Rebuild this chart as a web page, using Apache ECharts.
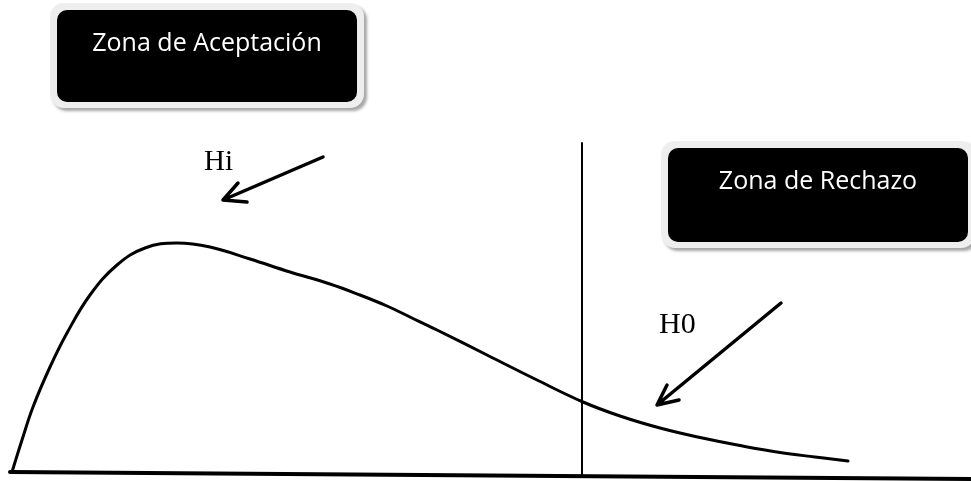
<!DOCTYPE html>
<html>
<head>
<meta charset="utf-8">
<script src="https://cdn.jsdelivr.net/npm/echarts@6/dist/echarts.min.js"></script>
<style>
  html, body { margin: 0; padding: 0; background: #fff; }
  #main { width: 971px; height: 481px; }
</style>
</head>
<body>
<div id="main"></div>
<script>
// curva (eje y hacia abajo)
var curveX = [12, 22, 33, 50, 67, 90, 117, 145, 177, 210, 250, 290, 330, 360, 387, 410, 437, 487, 537, 583, 620, 660, 700, 740, 780, 815, 848];
var curveY = [472, 440, 407, 367, 333, 295, 265, 248, 243, 247, 259, 272, 284, 295, 306, 317, 330, 355, 380, 402, 416, 428, 437.5, 445.5, 452.5, 457, 461];

// eje horizontal y linea de corte
var baseX = [10, 971];
var baseY = [472, 479];
var cutX = [582, 582];
var cutY = [143, 476];

// flechas: cola, punta, ala, punta, ala
var arrowHiX = [323, 223, 238, 223, 247];
var arrowHiY = [157, 200, 183, 200, 202];
var arrowH0X = [781, 657, 667, 657, 679];
var arrowH0Y = [303, 405, 385, 405, 400];

var labels = ['Hi', 'H0'];
var zonas = ['Zona de Aceptación', 'Zona de Rechazo'];

function pares(xs, ys) {
    return xs.map(function (x, i) { return [x, ys[i]]; });
}

function linea(name, xs, ys, width, smooth) {
    return {
        name: name,
        type: 'line',
        data: pares(xs, ys),
        smooth: smooth || false,
        symbol: 'none',
        silent: true,
        lineStyle: { color: '#000', width: width, cap: 'round', join: 'round' }
    };
}

var myChart = echarts.init(document.getElementById('main'));

function caja(x, y, w, h, texto) {
    return [
        {
            type: 'rect',
            shape: { x: x - 7, y: y - 7, width: w + 14, height: h + 13, r: 14 },
            style: { fill: '#eeeeee', shadowBlur: 3, shadowOffsetX: 3, shadowOffsetY: 3, shadowColor: 'rgba(0,0,0,0.35)' }
        },
        {
            type: 'rect',
            shape: { x: x, y: y, width: w, height: h, r: 10 },
            style: { fill: '#000' }
        },
        {
            type: 'text',
            x: x + w / 2,
            y: y + 34,
            style: {
                text: texto,
                fill: '#fff',
                font: '25px "Open Sans"',
                textAlign: 'center',
                textVerticalAlign: 'middle'
            }
        }
    ];
}

option = {
    animation: false,
    backgroundColor: '#fff',
    grid: { left: 0, right: 0, top: 0, bottom: 0 },
    xAxis: { type: 'value', min: 0, max: 971, show: false },
    yAxis: { type: 'value', min: 0, max: 481, inverse: true, show: false },
    series: [
        linea('curva', curveX, curveY, 3, 0.4),
        linea('eje', baseX, baseY, 4),
        linea('corte', cutX, cutY, 2),
        linea('flechaHi', arrowHiX, arrowHiY, 3.5),
        linea('flechaH0', arrowH0X, arrowH0Y, 3.5)
    ],
    graphic: [].concat(
        caja(57, 10, 300, 92, zonas[0]),
        caja(668, 148, 300, 94, zonas[1]),
        [
            {
                type: 'text', x: 204, y: 177,
                style: { text: labels[0], fill: '#000', font: '29px "Liberation Serif"', textVerticalAlign: 'bottom' }
            },
            {
                type: 'text', x: 659, y: 340,
                style: { text: labels[1], fill: '#000', font: '30px "Liberation Serif"', textVerticalAlign: 'bottom' }
            }
        ]
    )
};

myChart.setOption(option);
</script>
</body>
</html>
